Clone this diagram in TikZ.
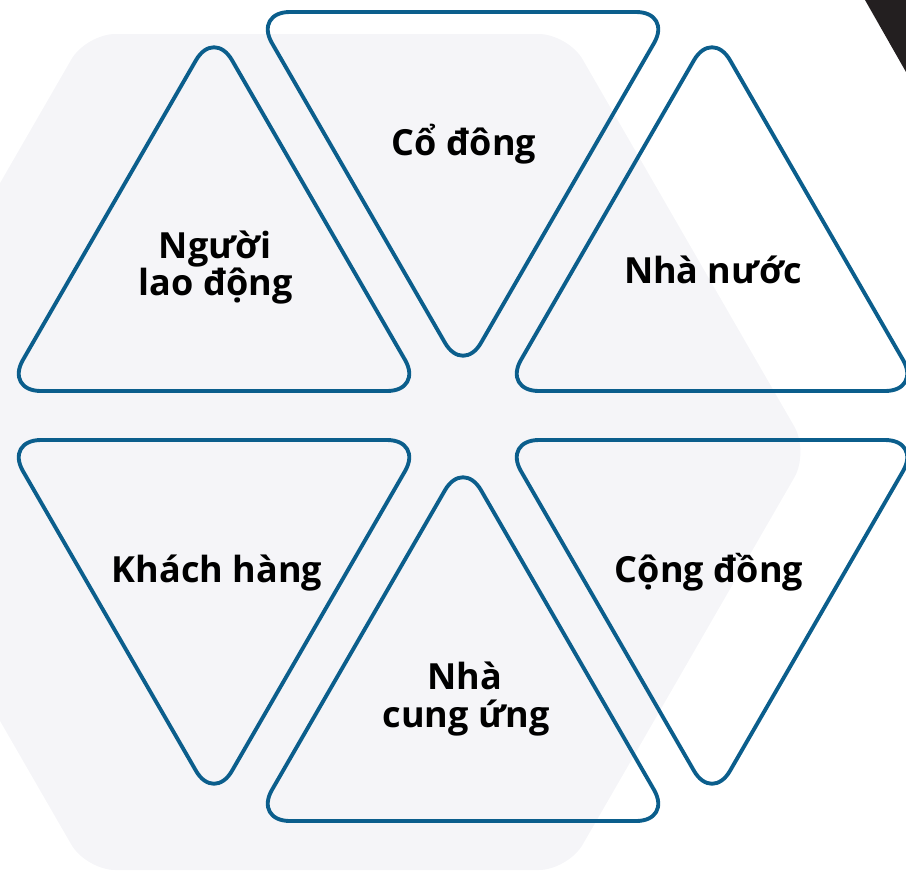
\documentclass[tikz,border=0pt]{standalone}
\usepackage{fontspec}
\setmainfont{Open Sans}
\definecolor{hexgray}{HTML}{F5F5F8}
\definecolor{lineblue}{HTML}{0B5E8C}
\definecolor{cornerdark}{HTML}{231F20}
\tikzset{
  tri/.style={draw=lineblue, line width=2.9pt, rounded corners=27pt, line join=round},
  label/.style={font=\fontsize{27}{29}\selectfont\bfseries, anchor=base, inner sep=0pt}
}
\begin{document}
\begin{tikzpicture}[x=0.75pt, y=-0.75pt,
    declare function={s = 209; h = 362;}]
  % khung
  \clip (0,0) rectangle (906,872);

  % lục giác nền
  \fill[hexgray, rounded corners=22pt]
    (809,452) -- (568,34) -- (86,34) -- (-155,452) -- (86,870) -- (568,870) -- cycle;

  % góc tối phía trên bên phải
  \fill[cornerdark] (865,0) -- (906,0) -- (906,72) -- cycle;

  % tam giác hướng lên
  \foreach \cx/\ty in {214/29, 712/29, 463/459}
    \draw[tri] (\cx,\ty) -- ({\cx+s},{\ty+h}) -- ({\cx-s},{\ty+h}) -- cycle;
  % tam giác hướng xuống
  \foreach \cx/\ty in {463/12, 214/440, 712/440}
    \draw[tri] ({\cx-s},\ty) -- ({\cx+s},\ty) -- (\cx,{\ty+h}) -- cycle;

  % nhãn
  \node[label] (worker1) at (215,258) {Người};
  \node[label] (worker2) at (216,295) {lao động};
  \node[label] (owner) at (464,155) {Cổ đông};
  \node[label] (state) at (713,283) {Nhà nước};
  \node[label] (customer) at (217,582) {Khách hàng};
  \node[label] (community) at (709,582) {Cộng đồng};
  \node[label] (supplier1) at (465,689) {Nhà};
  \node[label] (supplier2) at (466,727) {cung ứng};
\end{tikzpicture}
\end{document}
